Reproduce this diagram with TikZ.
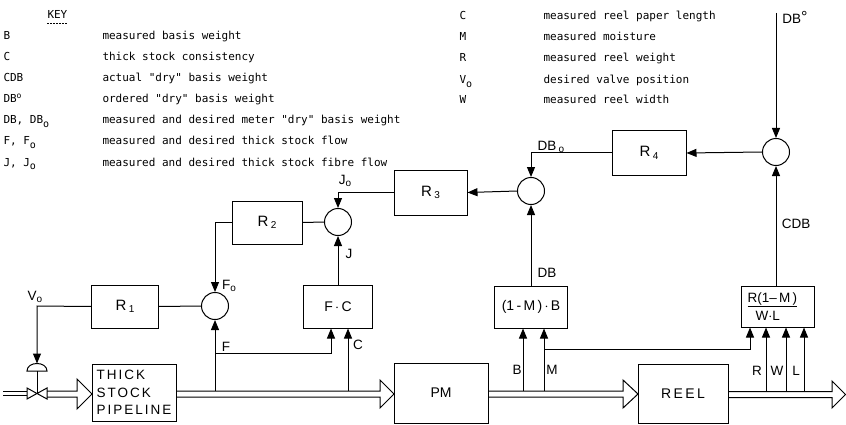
\documentclass[tikz,border=0pt]{standalone}
\usepackage{fontspec}
\setmainfont{Liberation Sans}
\newfontfamily\keyfont{DejaVu Sans Mono}
\newfontfamily\widefont[LetterSpace=15]{Liberation Sans}
\usetikzlibrary{arrows.meta}
\newcommand\lowsub[1]{\raisebox{-2.5pt}{\fontsize{10}{10}\selectfont #1}}
\newcommand\keysub[1]{\raisebox{-3.5pt}{\fontsize{10}{10}\selectfont #1}}
\newcommand\keysup[1]{\raisebox{4pt}{\fontsize{8}{8}\selectfont #1}}
\begin{document}
\begin{tikzpicture}[x=1pt,y=-1pt,line width=1pt,
  sig/.style={-{Triangle[length=10pt,width=8pt]}},
  blk/.style={draw,rectangle,inner sep=0pt,font=\fontsize{15}{17}\selectfont},
  sumnode/.style={draw,circle,minimum size=27pt,inner sep=0pt},
  keytxt/.style={anchor=base west,inner sep=0pt,font=\keyfont\fontsize{11}{13}\selectfont},
  lbl/.style={inner sep=0pt,font=\fontsize{13.5}{15}\selectfont}]
\useasboundingbox (0,0) rectangle (846,425);

% ---------- KEY ----------
\node[keytxt] (key) at (47,19) {KEY};
\draw[line width=0.6pt,dash pattern=on 2pt off 1pt] ([yshift=-4pt]key.base west) -- ([yshift=-4pt]key.base east);
\node[keytxt] (kl1) at (3,40) {B};
\node[keytxt] (kd1) at (102,40) {measured basis weight};
\node[keytxt] (kl2) at (3,61) {C};
\node[keytxt] (kd2) at (102,61) {thick stock consistency};
\node[keytxt] (kl3) at (3,82) {CDB};
\node[keytxt] (kd3) at (102,82) {actual "dry" basis weight};
\node[keytxt] (kl4) at (3,103) {DB\keysup{o}};
\node[keytxt] (kd4) at (102,103) {ordered "dry" basis weight};
\node[keytxt] (kl5) at (3,124) {DB, DB\keysub{o}};
\node[keytxt] (kd5) at (102,124) {measured and desired meter "dry" basis weight};
\node[keytxt] (kl6) at (3,145) {F, F\keysub{o}};
\node[keytxt] (kd6) at (102,145) {measured and desired thick stock flow};
\node[keytxt] (kl7) at (3,166) {J, J\keysub{o}};
\node[keytxt] (kd7) at (102,166) {measured and desired thick stock fibre flow};

\node[keytxt] (kr1) at (459,20) {C};
\node[keytxt] (ke1) at (543,20) {measured reel paper length};
\node[keytxt] (kr2) at (459,41) {M};
\node[keytxt] (ke2) at (543,41) {measured moisture};
\node[keytxt] (kr3) at (459,62) {R};
\node[keytxt] (ke3) at (543,62) {measured reel weight};
\node[keytxt] (kr4) at (459,84) {V\keysub{o}};
\node[keytxt] (ke4) at (543,84) {desired valve position};
\node[keytxt] (kr5) at (459,104) {W};
\node[keytxt] (ke5) at (543,104) {measured reel width};

% ---------- blocks ----------
\node[blk,minimum width=67pt,minimum height=43pt] (R1) at (125,306.5) {R\,\lowsub{1}};
\node[blk,minimum width=70pt,minimum height=43pt] (R2) at (267,222.5) {R\,\lowsub{2}};
\node[blk,minimum width=73pt,minimum height=45pt] (R3) at (430.5,192.5) {R\,\lowsub{3}};
\node[blk,minimum width=74pt,minimum height=44pt] (R4) at (649,153) {R\,\lowsub{4}};
\node[blk,minimum width=69pt,minimum height=43pt,font=\fontsize{14}{16}\selectfont] (FC) at (338,306.5) {F\,$\cdot$\,C};
\node[blk,minimum width=73pt,minimum height=42pt,font=\fontsize{14}{16}\selectfont] (MB) at (531,307) {(1\,-\,M\,)\,$\cdot$\,B};
\node[blk,minimum width=73pt,minimum height=41pt] (RW) at (777.5,306.5) {};
\node[lbl,anchor=base west] (RWt) at (747,302) {\underline{R(1–\,M\,)}};
\node[lbl,anchor=base west] (RWb) at (755,320) {W$\cdot$L};

\node[blk,minimum width=84pt,minimum height=57pt,align=left,font=\widefont\fontsize{13.5}{17.5}\selectfont] (TSP) at (134,392.5) {THICK\\STOCK\\PIPELINE};
\node[blk,minimum width=94pt,minimum height=60pt,font=\fontsize{14}{16}\selectfont] (PM) at (441,393) {PM};
\node[blk,minimum width=90pt,minimum height=59pt,font=\widefont\fontsize{14}{16}\selectfont] (REEL) at (683,393.5) {R\,E\,E\,L};

% ---------- summing junctions ----------
\node[sumnode] (S1) at (215,306) {};
\node[sumnode] (S2) at (338,222) {};
\node[sumnode] (S3) at (531,191) {};
\node[sumnode] (S4) at (776,152) {};

% ---------- pipes ----------
\draw (3,391.5) -- (27,391.5) (3,395.5) -- (27,395.5);
\node[inner sep=0pt,minimum size=0pt] (valve) at (37,393.5) {};
\draw (27,388) -- (valve.center) -- (47,388) -- (47,399) -- (valve.center) -- (27,399) -- cycle;
\draw (27,371) .. controls (27,361) and (47,361) .. (47,371) -- cycle;
\coordinate (dome) at (37,363.5);
\draw (37,371) -- (valve.center);
\draw (47,391) -- (77,391) -- (77,379) -- (92,394) -- (77,409) -- (77,397) -- (47,397);
\draw (176,391) -- (380,391) -- (380,380) -- (394,394) -- (380,408) -- (380,397) -- (176,397);
\draw (488,391) -- (623,391) -- (623,380) -- (638,394) -- (623,408) -- (623,397) -- (488,397);
\draw (728,391.5) -- (832,391.5) -- (832,381) -- (845.5,394.5) -- (832,408) -- (832,397.5) -- (728,397.5);

% ---------- signals ----------
\coordinate (vo) at (37,306);
\draw[sig] (R1.west) -- (vo) -- (dome);
\draw (S1.west) -- (R1.east);
\draw[sig] (R2.west) -- (R2.west -| S1) -- (S1.north);
\coordinate (f0) at (215,391);
\draw[sig] (f0) -- (S1.south);
\coordinate (fb) at (215,353);
\coordinate (fc) at (331,353);
\draw[sig] (fb) -- (fc) -- (fc |- FC.south);
\coordinate (c0) at (348,391);
\draw[sig] (c0) -- (c0 |- FC.south);
\draw[sig] (FC.north) -- (S2.south);
\draw (R2.east) -- (S2.west);
\draw[sig] (R3.west) -- (R3.west -| S2) -- (S2.north);
\draw[sig] (S3.west) -- (R3.east);
\draw[sig] (MB.north) -- (S3.south);
\draw[sig] (R4.west) -- (R4.west -| S3) -- (S3.north);
\draw[sig] (S4.west) -- (R4.east);
\coordinate (dbo) at (776,13);
\draw[sig] (dbo) -- (S4.north);
\draw[sig] (RW.north -| S4) -- (S4.south);
\coordinate (b0) at (523,391);
\coordinate (m0) at (544,391);
\draw[sig] (b0) -- (b0 |- MB.south);
\draw[sig] (m0) -- (m0 |- MB.south);
\coordinate (mb) at (544,349);
\coordinate (mr) at (750,349);
\draw[sig] (mb) -- (mr) -- (mr |- RW.south);
\coordinate (r0) at (766,391.5);
\coordinate (w0) at (786,391.5);
\coordinate (l0) at (804,391.5);
\draw[sig] (r0) -- (r0 |- RW.south);
\draw[sig] (w0) -- (w0 |- RW.south);
\draw[sig] (l0) -- (l0 |- RW.south);

% ---------- labels ----------
\node[lbl] (lVo) at (35,297) {V\lowsub{o}};
\node[lbl] (lFo) at (229,286) {F\lowsub{o}};
\node[lbl] (lF) at (226,347) {F};
\node[lbl] (lC) at (358,345) {C};
\node[lbl] (lJ) at (349,254) {J};
\node[lbl] (lJo) at (345,181) {J\lowsub{o}};
\node[lbl] (lDB) at (547,273) {DB};
\node[lbl] (lDBo) at (551,147) {DB\,\lowsub{o}};
\node[lbl] (lDBs) at (795,17) {DB\raisebox{1pt}{\fontsize{16}{16}\selectfont °}};
\node[lbl] (lCDB) at (796,224) {CDB};
\node[lbl] (lB) at (517,370) {B};
\node[lbl] (lM) at (552,370) {M};
\node[lbl] (lR) at (757,371) {R};
\node[lbl] (lW) at (777,371) {W};
\node[lbl] (lL) at (796,371) {L};
\end{tikzpicture}
\end{document}
